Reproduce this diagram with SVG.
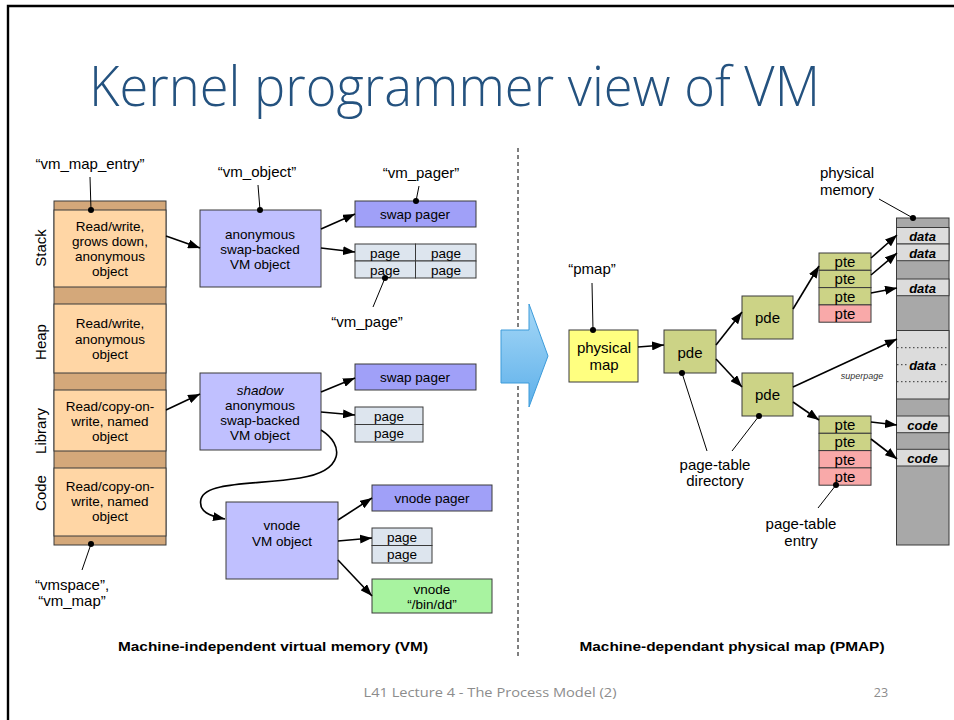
<svg xmlns="http://www.w3.org/2000/svg" width="954" height="720" viewBox="0 0 954 720">
<defs>
<style>
text{font-family:"Liberation Sans",Arial,Helvetica,sans-serif;fill:#000}
.bt{font-size:13.5px;text-anchor:middle}
.lb{font-size:15px;text-anchor:middle}
.rl{font-size:15px;text-anchor:middle}
.pt{font-size:15px;text-anchor:middle}
.mm{font-size:13px;text-anchor:middle;font-weight:bold;font-style:italic}
.cap{font-size:13px;font-weight:bold;text-anchor:middle}
.box{stroke:#3a3a3a;stroke-width:1}
.ent{fill:#FFD6A5}
.tan{fill:#D4A87A}
.obj{fill:#C0C0FF}
.pgr{fill:#A0A0F8}
.pg{fill:#DDE5EE}
.grn{fill:#A8F3A0}
.yel{fill:#FFFF80}
.ol{fill:#CCD386}
.pk{fill:#F9A9A9}
.dk{fill:#A8A8A8}
.lt{fill:#DCDCDC}
.dot{stroke:#333;stroke-width:1;stroke-dasharray:1.5,2.5}
.conn line,.conn path{stroke:#000;stroke-width:1.6;fill:none;marker-end:url(#ah)}
.ptr line{stroke:#000;stroke-width:1}
.ptr circle{fill:#000}
</style>
<marker id="ah" viewBox="0 0 12 9" refX="12" refY="4.5" markerWidth="12" markerHeight="9" markerUnits="userSpaceOnUse" orient="auto">
<path d="M0,0 L12,4.5 L0,9 z" fill="#000"/>
</marker>
<linearGradient id="bg" x1="0" y1="0" x2="0" y2="1">
<stop offset="0" stop-color="#A6D8F7"/>
<stop offset="1" stop-color="#5EB0EA"/>
</linearGradient>
</defs>
<rect x="0" y="0" width="954" height="720" fill="#fff"/>
<path d="M8,720 V6 H954" fill="none" stroke="#000" stroke-width="2.4"/>
<text x="89" y="106" style="font-family:'Open Sans','Liberation Sans',sans-serif;font-size:55px;font-weight:300;fill:#24527F" textLength="731" lengthAdjust="spacingAndGlyphs">Kernel programmer view of VM</text>

<g id="vm_map">
<rect class="box tan" x="54" y="201" width="112" height="344"/>
<rect class="box ent" x="54" y="210" width="112" height="77"/>
<rect class="box ent" x="54" y="304" width="112" height="69"/>
<rect class="box ent" x="54" y="390" width="112" height="61"/>
<rect class="box ent" x="54" y="468" width="112" height="68"/>
<text class="bt" x="110" y="231">Read/write,</text>
<text class="bt" x="110" y="246">grows down,</text>
<text class="bt" x="110" y="261">anonymous</text>
<text class="bt" x="110" y="276">object</text>
<text class="bt" x="110" y="328">Read/write,</text>
<text class="bt" x="110" y="344">anonymous</text>
<text class="bt" x="110" y="359">object</text>
<text class="bt" x="110" y="411">Read/copy-on-</text>
<text class="bt" x="110" y="426">write, named</text>
<text class="bt" x="110" y="441">object</text>
<text class="bt" x="110" y="491">Read/copy-on-</text>
<text class="bt" x="110" y="506">write, named</text>
<text class="bt" x="110" y="521">object</text>
<text class="rl" transform="translate(46,248) rotate(-90)">Stack</text>
<text class="rl" transform="translate(46,342) rotate(-90)">Heap</text>
<text class="rl" transform="translate(46,431) rotate(-90)">Library</text>
<text class="rl" transform="translate(46,493) rotate(-90)">Code</text>
</g>

<g id="obj_anon">
<rect class="box obj" x="200" y="210" width="121" height="77"/>
<text class="bt" x="260" y="239">anonymous</text>
<text class="bt" x="260" y="254">swap-backed</text>
<text class="bt" x="260" y="269">VM object</text>
</g>
<g id="pager_swap1">
<rect class="box pgr" x="355" y="201" width="121" height="26"/>
<text class="bt" x="415" y="219">swap pager</text>
</g>
<g id="pages1">
<rect class="box pg" x="355" y="244" width="60.5" height="17"/>
<rect class="box pg" x="415.5" y="244" width="60.5" height="17"/>
<rect class="box pg" x="355" y="261" width="60.5" height="17"/>
<rect class="box pg" x="415.5" y="261" width="60.5" height="17"/>
<text class="bt" x="385" y="257.5">page</text>
<text class="bt" x="446" y="257.5">page</text>
<text class="bt" x="385" y="274.5">page</text>
<text class="bt" x="446" y="274.5">page</text>
</g>

<g id="obj_shadow">
<rect class="box obj" x="200" y="373" width="121" height="77"/>
<text class="bt" x="260" y="395" font-style="italic">shadow</text>
<text class="bt" x="260" y="410">anonymous</text>
<text class="bt" x="260" y="425">swap-backed</text>
<text class="bt" x="260" y="440">VM object</text>
</g>
<g id="pager_swap2">
<rect class="box pgr" x="355" y="364" width="121" height="26"/>
<text class="bt" x="415" y="382">swap pager</text>
</g>
<g id="pages2">
<rect class="box pg" x="355" y="407" width="68" height="17.5"/>
<rect class="box pg" x="355" y="424.5" width="68" height="17.5"/>
<text class="bt" x="389" y="420.5">page</text>
<text class="bt" x="389" y="438">page</text>
</g>

<g id="obj_vnode">
<rect class="box obj" x="226" y="502" width="112" height="77"/>
<text class="bt" x="282" y="530">vnode</text>
<text class="bt" x="282" y="546">VM object</text>
</g>
<g id="pager_vnode">
<rect class="box pgr" x="372" y="485" width="120" height="26"/>
<text class="bt" x="432" y="503">vnode pager</text>
</g>
<g id="pages3">
<rect class="box pg" x="372" y="528" width="60" height="17.5"/>
<rect class="box pg" x="372" y="545.5" width="60" height="17.5"/>
<text class="bt" x="402" y="541.5">page</text>
<text class="bt" x="402" y="559">page</text>
</g>
<g id="vnode_file">
<rect class="box grn" x="372" y="579" width="120" height="34"/>
<text class="bt" x="432" y="594">vnode</text>
<text class="bt" x="432" y="609">“/bin/dd”</text>
</g>

<g id="separator">
<line x1="518" y1="148" x2="518" y2="658" stroke="#000" stroke-width="1" stroke-dasharray="4,3"/>
</g>
<g id="big_arrow">
<path d="M501,330 H529 V304 L548,356 L529,407 V383 H501 Z" fill="url(#bg)" stroke="#3C9BDA" stroke-width="1"/>
</g>

<g id="physical_map">
<rect class="box yel" x="569" y="330" width="69" height="52"/>
<text class="pt" x="604" y="353">physical</text>
<text class="pt" x="604" y="370">map</text>
</g>
<g id="pde1">
<rect class="box ol" x="664" y="330" width="52" height="43"/>
<text class="pt" x="690" y="358" font-size="16">pde</text>
</g>
<g id="pde2">
<rect class="box ol" x="742" y="296" width="51" height="43"/>
<text class="pt" x="767.5" y="323" font-size="16">pde</text>
</g>
<g id="pde3">
<rect class="box ol" x="742" y="373" width="51" height="43"/>
<text class="pt" x="767.5" y="400" font-size="16">pde</text>
</g>
<g id="pte_group1">
<rect class="box ol" x="819" y="253" width="52" height="17.3"/>
<rect class="box ol" x="819" y="270.3" width="52" height="17.3"/>
<rect class="box ol" x="819" y="287.6" width="52" height="17.3"/>
<rect class="box pk" x="819" y="304.9" width="52" height="17.3"/>
<text class="pt" x="845" y="267">pte</text>
<text class="pt" x="845" y="284.3">pte</text>
<text class="pt" x="845" y="301.6">pte</text>
<text class="pt" x="845" y="318.9">pte</text>
</g>
<g id="pte_group2">
<rect class="box ol" x="819" y="416" width="52" height="17.3"/>
<rect class="box ol" x="819" y="433.3" width="52" height="17.3"/>
<rect class="box pk" x="819" y="450.6" width="52" height="17.3"/>
<rect class="box pk" x="819" y="467.9" width="52" height="17.3"/>
<text class="pt" x="845" y="430">pte</text>
<text class="pt" x="845" y="447.3">pte</text>
<text class="pt" x="845" y="464.6">pte</text>
<text class="pt" x="845" y="481.9">pte</text>
</g>
<g id="physical_memory">
<rect class="box dk" x="896.5" y="218" width="52.5" height="327"/>
<rect class="box lt" x="896.5" y="227.5" width="52.5" height="16.5"/>
<rect class="box lt" x="896.5" y="244" width="52.5" height="16.7"/>
<rect class="box lt" x="896.5" y="279" width="52.5" height="16.7"/>
<rect class="box lt" x="896.5" y="330.5" width="52.5" height="68.5"/>
<line class="dot" x1="897" y1="347.7" x2="948.5" y2="347.7"/>
<line class="dot" x1="897" y1="364.7" x2="948.5" y2="364.7"/>
<line class="dot" x1="897" y1="381.7" x2="948.5" y2="381.7"/>
<rect class="lt" x="907" y="357" width="32" height="16"/>
<rect class="box lt" x="896.5" y="416" width="52.5" height="16.7"/>
<rect class="box lt" x="896.5" y="449.3" width="52.5" height="16.7"/>
<text class="mm" x="922.5" y="241">data</text>
<text class="mm" x="922.5" y="257.5">data</text>
<text class="mm" x="922.5" y="292.5">data</text>
<text class="mm" x="922.5" y="369.5">data</text>
<text class="mm" x="922.5" y="429.5">code</text>
<text class="mm" x="922.5" y="463">code</text>
</g>

<g id="labels">
<text class="lb" x="90" y="169">“vm_map_entry”</text>
<text class="lb" x="72" y="590">“vmspace”,</text>
<text class="lb" x="72" y="606">“vm_map”</text>
<text class="lb" x="257" y="177">“vm_object”</text>
<text class="lb" x="421" y="178">“vm_pager”</text>
<text class="lb" x="367" y="327">“vm_page”</text>
<text class="lb" x="592" y="274">“pmap”</text>
<text class="lb" x="715" y="470">page-table</text>
<text class="lb" x="715" y="486">directory</text>
<text class="lb" x="847" y="178">physical</text>
<text class="lb" x="847" y="195">memory</text>
<text class="lb" x="801" y="529">page-table</text>
<text class="lb" x="801" y="546">entry</text>
<text x="862" y="379" style="font-size:9px;font-style:italic;text-anchor:middle;fill:#333">superpage</text>
</g>

<g id="pointers" class="ptr">
<line x1="90" y1="177" x2="91" y2="210"/><circle cx="91" cy="210" r="3"/>
<line x1="91" y1="544" x2="82" y2="570"/><circle cx="91" cy="544" r="3"/>
<line x1="258" y1="185" x2="260" y2="210"/><circle cx="260" cy="210" r="3"/>
<line x1="419" y1="186" x2="416" y2="201"/><circle cx="416" cy="201" r="3"/>
<line x1="385" y1="278" x2="373" y2="307"/><circle cx="385" cy="278" r="3"/>
<line x1="592" y1="283" x2="593" y2="330"/><circle cx="593" cy="330" r="3"/>
<line x1="682" y1="373" x2="707" y2="451"/><circle cx="682" cy="373" r="3"/>
<line x1="759" y1="416" x2="732" y2="451"/><circle cx="759" cy="416" r="3"/>
<line x1="879" y1="199" x2="913" y2="218"/><circle cx="913" cy="218" r="3"/>
<line x1="836" y1="485" x2="818" y2="508"/><circle cx="836" cy="485" r="3"/>
</g>

<g id="connectors" class="conn">
<line x1="166" y1="236" x2="200" y2="248"/>
<line x1="166" y1="410" x2="200" y2="394"/>
<line x1="321" y1="229" x2="355" y2="214"/>
<line x1="321" y1="248" x2="355" y2="252"/>
<line x1="321" y1="392" x2="355" y2="378"/>
<line x1="321" y1="412" x2="355" y2="415"/>
<path d="M321,430 C345,445 344,471 300,478 C258,485 206,481 201,499 C198,512 210,516 225,519"/>
<line x1="338" y1="520" x2="372" y2="498"/>
<line x1="338" y1="541" x2="372" y2="538"/>
<line x1="338" y1="560" x2="372" y2="596"/>
<line x1="638" y1="347" x2="664" y2="345"/>
<line x1="716" y1="345" x2="742" y2="312"/>
<line x1="716" y1="359" x2="742" y2="387"/>
<line x1="793" y1="309" x2="819" y2="266"/>
<line x1="871" y1="258" x2="897" y2="235"/>
<line x1="871" y1="275" x2="897" y2="253"/>
<line x1="871" y1="293" x2="897" y2="288"/>
<line x1="793" y1="387" x2="897" y2="339"/>
<line x1="793" y1="402" x2="819" y2="420"/>
<line x1="871" y1="422" x2="897" y2="425"/>
<line x1="871" y1="439" x2="897" y2="459"/>
</g>

<text class="cap" x="273" y="651" textLength="310" lengthAdjust="spacingAndGlyphs">Machine-independent virtual memory (VM)</text>
<text class="cap" x="732" y="651" textLength="305" lengthAdjust="spacingAndGlyphs">Machine-dependant physical map (PMAP)</text>
<text x="490" y="697" style="font-family:'Open Sans','Liberation Sans',sans-serif;font-size:12.5px;fill:#8C8C8C;text-anchor:middle" textLength="253" lengthAdjust="spacingAndGlyphs">L41 Lecture 4 - The Process Model (2)</text>
<text x="881" y="697" style="font-family:'Open Sans','Liberation Sans',sans-serif;font-size:12.5px;fill:#8C8C8C;text-anchor:middle">23</text>
</svg>
